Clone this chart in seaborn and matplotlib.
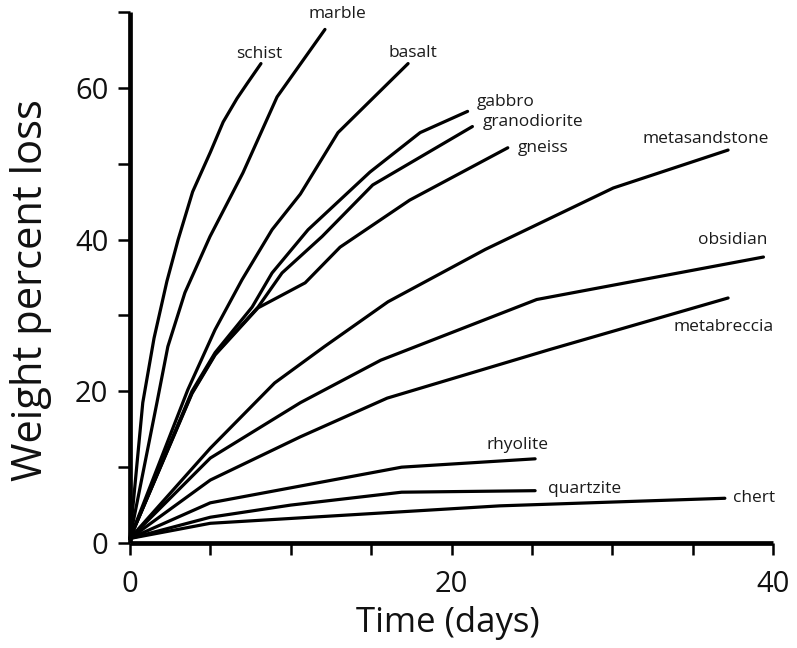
import matplotlib
matplotlib.use("Agg")
import matplotlib.pyplot as plt
import seaborn as sns
import pandas as pd

# values (days, weight percent loss)
schist_days = [0, 0.8, 1.5, 2.3, 3.0, 3.9, 5.0, 5.8, 6.66, 7.3, 8.15]
schist_loss = [0.6, 18.5, 27.0, 34.5, 40.0, 46.3, 51.5, 55.5, 58.6, 60.6, 63.2]

marble_days = [0, 1.68, 2.36, 3.42, 4.98, 7.03, 9.15, 12.13]
marble_loss = [0.6, 18.5, 25.9, 33.0, 40.4, 48.8, 58.8, 67.7]

basalt_days = [0, 3.6, 5.29, 6.97, 8.84, 10.6, 12.94, 17.3]
basalt_loss = [0.6, 20.2, 28.1, 34.7, 41.3, 46.0, 54.1, 63.2]

gabbro_days = [0, 3.86, 5.3, 7.6, 8.84, 11.08, 14.93, 18.05, 21.0]
gabbro_loss = [0.6, 20.0, 25.1, 31.1, 35.6, 41.3, 48.9, 54.1, 56.9]

granodiorite_days = [0, 3.86, 5.3, 7.97, 9.46, 11.95, 15.1, 21.3]
granodiorite_loss = [0.6, 19.8, 24.9, 31.1, 35.6, 40.4, 47.2, 54.9]

gneiss_days = [0, 3.86, 5.3, 7.97, 10.9, 13.07, 17.4, 23.5]
gneiss_loss = [0.6, 19.7, 24.8, 31.0, 34.3, 39.0, 45.2, 52.1]

metasandstone_days = [0, 5.0, 9.0, 12.1, 16.05, 22.1, 30.06, 37.2]
metasandstone_loss = [0.6, 12.5, 21.1, 25.9, 31.8, 38.7, 46.8, 51.8]

obsidian_days = [0, 5.0, 10.6, 15.6, 25.3, 39.4]
obsidian_loss = [0.6, 11.2, 18.5, 24.1, 32.1, 37.7]

metabreccia_days = [0, 5.0, 10.6, 16.0, 26.1, 37.2]
metabreccia_loss = [0.6, 8.3, 14.0, 19.1, 25.5, 32.3]

rhyolite_days = [0, 5.0, 16.9, 25.2]
rhyolite_loss = [0.6, 5.3, 10.0, 11.1]

quartzite_days = [0, 5.0, 10.0, 16.9, 25.2]
quartzite_loss = [0.6, 3.4, 5.0, 6.7, 6.9]

chert_days = [0, 5.0, 23.0, 37.0]
chert_loss = [0.6, 2.6, 4.9, 5.9]

series = {
    'schist': (schist_days, schist_loss),
    'marble': (marble_days, marble_loss),
    'basalt': (basalt_days, basalt_loss),
    'gabbro': (gabbro_days, gabbro_loss),
    'granodiorite': (granodiorite_days, granodiorite_loss),
    'gneiss': (gneiss_days, gneiss_loss),
    'metasandstone': (metasandstone_days, metasandstone_loss),
    'obsidian': (obsidian_days, obsidian_loss),
    'metabreccia': (metabreccia_days, metabreccia_loss),
    'rhyolite': (rhyolite_days, rhyolite_loss),
    'quartzite': (quartzite_days, quartzite_loss),
    'chert': (chert_days, chert_loss),
}

# where each curve name sits (data coords, text centre)
label_pos = {
    'schist': (8.03, 64.5),
    'marble': (12.9, 69.8),
    'basalt': (17.6, 64.6),
    'gabbro': (23.4, 58.2),
    'granodiorite': (25.1, 55.5),
    'gneiss': (25.7, 52.1),
    'metasandstone': (35.8, 53.2),
    'obsidian': (37.5, 40.0),
    'metabreccia': (36.9, 28.5),
    'rhyolite': (24.1, 12.9),
    'quartzite': (28.25, 7.1),
    'chert': (38.8, 5.9),
}

rows = []
for name, (d, w) in series.items():
    for i in range(len(d)):
        rows.append({'rock': name, 'order': i, 'days': d[i], 'loss': w[i]})
df = pd.DataFrame(rows)

sns.set_theme(style='ticks')
plt.rcParams['font.family'] = ['Open Sans', 'DejaVu Sans']

fig = plt.figure(figsize=(7.97, 6.48), dpi=100)
ax = fig.add_axes([0.163, 0.162, 0.807, 0.8195])

sns.lineplot(data=df, x='days', y='loss', units='rock', estimator=None,
             sort=False, color='black', linewidth=2.3, ax=ax, legend=False)

for name, (tx, ty) in label_pos.items():
    ax.text(tx, ty, name, ha='center', va='center', fontsize=12.5, color='#1a1a1a')

ax.set_xlim(0, 40)
ax.set_ylim(0, 70)
ax.set_xticks(range(0, 41, 5))
ax.set_xticklabels(['0', '', '', '', '20', '', '', '', '40'])
ax.set_yticks(range(0, 71, 10))
ax.set_yticklabels(['0', '', '20', '', '40', '', '60', ''])
ax.tick_params(axis='both', direction='out', length=8.5, width=1.8,
               color='black', labelsize=21, labelcolor='#111111')
ax.tick_params(axis='x', pad=11)
ax.tick_params(axis='y', pad=7)

for side in ['top', 'right']:
    ax.spines[side].set_visible(False)
for side in ['left', 'bottom']:
    ax.spines[side].set_linewidth(3.4)
    ax.spines[side].set_color('black')
    ax.spines[side].set_capstyle('butt')

ax.set_xlabel('Time (days)', fontsize=25, color='#111111')
ax.set_ylabel('Weight percent loss', fontsize=30, color='#111111')
ax.xaxis.set_label_coords(0.495, -0.118)
ax.yaxis.set_label_coords(-0.121, 0.476)

for line in ax.lines:
    line.set_clip_on(False)
    line.set_solid_joinstyle('round')

fig.savefig('out.png', dpi=100)
